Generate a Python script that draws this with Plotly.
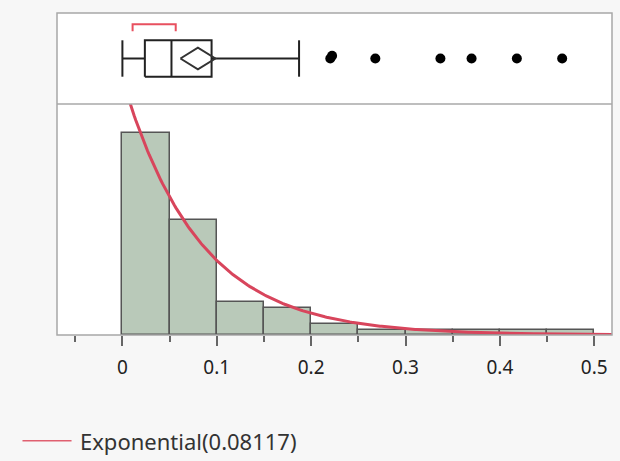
import numpy as np
import plotly.graph_objects as go

# ---- data ----
bin_edges = [0.0, 0.05, 0.10, 0.15, 0.20, 0.25, 0.30, 0.35, 0.40, 0.45, 0.50]
bin_counts = [37, 21, 6, 5, 2, 1, 1, 1, 1, 1]
exp_mean = 0.08117
legend_label = "Exponential(0.08117)"

# box plot summary
whisker_lo = 0.0
q1 = 0.0238
median = 0.052
q3 = 0.0945
whisker_hi = 0.1872
mean_ci_lo = 0.0615
mean_ci_hi = 0.0985
shortest_half_lo = 0.0108
shortest_half_hi = 0.0565
outliers = [0.2203, 0.2222, 0.268, 0.337, 0.370, 0.418, 0.466]
outlier_jitter = [0.0, 0.03, 0.0, 0.0, 0.0, 0.0, 0.0]

tick_vals = [0, 0.1, 0.2, 0.3, 0.4, 0.5]
tick_text = ["0", "0.1", "0.2", "0.3", "0.4", "0.5"]

# ---- derived ----
centers = [(a + b) / 2 for a, b in zip(bin_edges[:-1], bin_edges[1:])]
widths = [b - a for a, b in zip(bin_edges[:-1], bin_edges[1:])]
n_total = sum(bin_counts)
bw = widths[0]
xc = np.linspace(0.0, 0.53, 300)
yc = n_total * bw / exp_mean * np.exp(-xc / exp_mean)

FONT = "Noto Sans"
split = 0.7174
fig = go.Figure()

fig.add_trace(go.Bar(x=centers, y=bin_counts, width=widths,
                     marker=dict(color="#b9c9b9", line=dict(color="#555555", width=1.5)),
                     xaxis="x", yaxis="y", showlegend=False, hoverinfo="skip"))
fig.add_trace(go.Scatter(x=xc, y=yc, mode="lines", line=dict(color="#d8455c", width=3),
                         xaxis="x", yaxis="y", showlegend=False, hoverinfo="skip"))

# box plot (panel coordinates 0..1)
yb0, yb1, ym = 0.30, 0.70, 0.50
box_line = dict(color="#222222", width=2)
fig.add_trace(go.Scatter(
    x=[whisker_lo, q1, None, q3, whisker_hi, None, whisker_lo, whisker_lo, None, whisker_hi, whisker_hi,
       None, q1, q3, q3, q1, q1, None, median, median],
    y=[ym, ym, None, ym, ym, None, yb0, yb1, None, yb0, yb1,
       None, yb0, yb0, yb1, yb1, yb0, None, yb0, yb1],
    mode="lines", line=box_line, xaxis="x", yaxis="y2", showlegend=False, hoverinfo="skip"))
mean_c = (mean_ci_lo + mean_ci_hi) / 2
fig.add_trace(go.Scatter(
    x=[mean_ci_lo, mean_c, mean_ci_hi, mean_c, mean_ci_lo],
    y=[ym, ym + 0.12, ym, ym - 0.12, ym],
    mode="lines", line=dict(color="#333333", width=2), xaxis="x", yaxis="y2",
    showlegend=False, hoverinfo="skip"))
fig.add_trace(go.Scatter(
    x=[shortest_half_lo, shortest_half_lo, shortest_half_hi, shortest_half_hi],
    y=[0.80, 0.875, 0.875, 0.80],
    mode="lines", line=dict(color="#e8505f", width=2), xaxis="x", yaxis="y2",
    showlegend=False, hoverinfo="skip"))
fig.add_trace(go.Scatter(
    x=outliers, y=[ym + j for j in outlier_jitter], mode="markers",
    marker=dict(color="black", size=10), xaxis="x", yaxis="y2",
    showlegend=False, hoverinfo="skip"))

frame = dict(color="#a8a8a8", width=1.5)
shapes = [
    dict(type="rect", xref="paper", yref="paper", x0=0, x1=1, y0=0, y1=1, line=frame, layer="above"),
    dict(type="line", xref="paper", yref="paper", x0=0, x1=1, y0=split, y1=split, line=frame, layer="above"),
    dict(type="line", xref="paper", yref="paper", x0=-0.0622, x1=0.0262, y0=-0.3285, y1=-0.3285,
         line=dict(color="#e06070", width=1.5)),
]

fig.update_layout(
    width=620, height=461,
    margin=dict(l=57, r=8, t=13, b=126),
    paper_bgcolor="#f7f7f7", plot_bgcolor="white",
    font=dict(family=FONT, size=19, color="#222222"),
    bargap=0,
    xaxis=dict(range=[-0.0693, 0.5188], anchor="y", tickvals=tick_vals, ticktext=tick_text,
               ticks="outside", ticklen=10, tickwidth=1.5, tickcolor="#666666",
               ticklabelstandoff=5,
               minor=dict(dtick=0.05, tick0=0, ticks="outside", ticklen=6, tickwidth=1.5,
                          tickcolor="#666666", showgrid=False),
               showgrid=False, zeroline=False, showline=False,
               tickfont=dict(family=FONT, size=19, color="#222222")),
    yaxis=dict(domain=[0, split], range=[0, 42.3], visible=False, showgrid=False, zeroline=False),
    yaxis2=dict(domain=[split, 1], range=[0, 1], anchor="x", visible=False, showgrid=False, zeroline=False),
    shapes=shapes,
    annotations=[dict(text=legend_label, xref="paper", yref="paper", x=0.038, y=-0.3285,
                      xanchor="left", yanchor="middle", showarrow=False,
                      font=dict(family=FONT, size=22, color="#333333"))],
)

fig.write_html("out.html")
